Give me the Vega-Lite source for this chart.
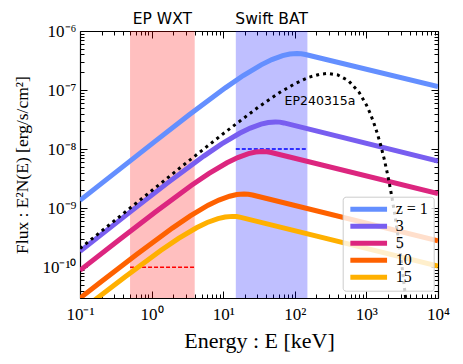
{
  "$schema": "https://vega.github.io/schema/vega-lite/v6.json",
  "width": 358,
  "height": 267,
  "autosize": {"type": "none"},
  "padding": {"left": 80, "top": 31, "right": 25, "bottom": 66},
  "background": "white",
  "config": {
    "view": {"stroke": null},
    "axis": {
      "domainColor": "black", "domainWidth": 1.2, "tickColor": "black", "tickWidth": 1,
      "grid": false, "labelFont": "Liberation Serif", "labelFontSize": 17, "labelColor": "black",
      "titleFont": "Liberation Serif", "titleFontSize": 22, "titleFontWeight": "normal", "titleColor": "black",
      "labelFlush": false, "labelOverlap": false
    }
  },
  "datasets": {
    "bands": [
      {"name": "EP WXT", "lo": 0.5, "hi": 4, "level": 1e-10, "mid": 1.414, "ly": 1.31e-6},
      {"name": "Swift BAT", "lo": 15, "hi": 150, "level": 1e-8, "mid": 47.43, "ly": 1.31e-6}
    ],
    "curves": [
      {"s": "z = 1", "E": 0.1, "F": 1.35e-9}, {"s": "z = 1", "E": 1.0715, "F": 1.30e-8}, {"s": "z = 1", "E": 3.388, "F": 3.85e-8},
      {"s": "z = 1", "E": 10.715, "F": 1.09e-7}, {"s": "z = 1", "E": 19.05, "F": 1.76e-7}, {"s": "z = 1", "E": 33.88, "F": 2.67e-7},
      {"s": "z = 1", "E": 47.86, "F": 3.28e-7}, {"s": "z = 1", "E": 67.61, "F": 3.82e-7}, {"s": "z = 1", "E": 85.11, "F": 4.07e-7},
      {"s": "z = 1", "E": 107.15, "F": 4.17e-7}, {"s": "z = 1", "E": 123.03, "F": 4.13e-7}, {"s": "z = 1", "E": 140.93, "F": 4.00e-7},
      {"s": "z = 1", "E": 10000, "F": 1.14e-7},
      {"s": "3", "E": 0.1, "F": 1.85e-10}, {"s": "3", "E": 0.5358, "F": 9.15e-10}, {"s": "3", "E": 1.694, "F": 2.70e-9},
      {"s": "3", "E": 5.358, "F": 7.61e-9}, {"s": "3", "E": 9.528, "F": 1.22e-8}, {"s": "3", "E": 16.94, "F": 1.85e-8},
      {"s": "3", "E": 23.93, "F": 2.27e-8}, {"s": "3", "E": 33.81, "F": 2.64e-8}, {"s": "3", "E": 42.56, "F": 2.82e-8},
      {"s": "3", "E": 53.58, "F": 2.88e-8}, {"s": "3", "E": 61.52, "F": 2.86e-8}, {"s": "3", "E": 70.47, "F": 2.77e-8},
      {"s": "3", "E": 10000, "F": 6.27e-9},
      {"s": "5", "E": 0.1, "F": 8.83e-11}, {"s": "5", "E": 0.3573, "F": 2.94e-10}, {"s": "5", "E": 1.1298, "F": 8.60e-10},
      {"s": "5", "E": 3.573, "F": 2.41e-9}, {"s": "5", "E": 6.353, "F": 3.86e-9}, {"s": "5", "E": 11.30, "F": 5.85e-9},
      {"s": "5", "E": 15.96, "F": 7.18e-9}, {"s": "5", "E": 22.54, "F": 8.36e-9}, {"s": "5", "E": 28.38, "F": 8.91e-9},
      {"s": "5", "E": 35.73, "F": 9.12e-9}, {"s": "5", "E": 41.02, "F": 9.03e-9}, {"s": "5", "E": 46.99, "F": 8.76e-9},
      {"s": "5", "E": 10000, "F": 1.76e-9},
      {"s": "10", "E": 0.1, "F": 2.99e-11}, {"s": "10", "E": 0.195, "F": 5.61e-11}, {"s": "10", "E": 0.6166, "F": 1.64e-10},
      {"s": "10", "E": 1.950, "F": 4.59e-10}, {"s": "10", "E": 3.467, "F": 7.36e-10}, {"s": "10", "E": 6.166, "F": 1.12e-9},
      {"s": "10", "E": 8.710, "F": 1.37e-9}, {"s": "10", "E": 12.30, "F": 1.59e-9}, {"s": "10", "E": 15.49, "F": 1.70e-9},
      {"s": "10", "E": 19.50, "F": 1.74e-9}, {"s": "10", "E": 22.39, "F": 1.72e-9}, {"s": "10", "E": 25.64, "F": 1.67e-9},
      {"s": "10", "E": 10000, "F": 2.79e-10},
      {"s": "15", "E": 0.1, "F": 1.77e-11}, {"s": "15", "E": 0.1340, "F": 2.34e-11}, {"s": "15", "E": 0.4236, "F": 6.83e-11},
      {"s": "15", "E": 1.340, "F": 1.91e-10}, {"s": "15", "E": 2.382, "F": 3.07e-10}, {"s": "15", "E": 4.236, "F": 4.65e-10},
      {"s": "15", "E": 5.984, "F": 5.70e-10}, {"s": "15", "E": 8.453, "F": 6.64e-10}, {"s": "15", "E": 10.64, "F": 7.08e-10},
      {"s": "15", "E": 13.40, "F": 7.24e-10}, {"s": "15", "E": 15.38, "F": 7.18e-10}, {"s": "15", "E": 17.62, "F": 6.96e-10},
      {"s": "15", "E": 10000, "F": 1.04e-10}
    ],
    "ep": [
      {"E": 0.1, "F": 2.07e-10}, {"E": 1, "F": 1.97e-9}, {"E": 3.162, "F": 6.05e-9}, {"E": 10, "F": 1.82e-8},
      {"E": 31.62, "F": 5.24e-8}, {"E": 63.1, "F": 9.26e-8}, {"E": 100, "F": 1.28e-7}, {"E": 158.5, "F": 1.65e-7},
      {"E": 223.9, "F": 1.85e-7}, {"E": 287.7, "F": 1.91e-7}, {"E": 398.1, "F": 1.80e-7}, {"E": 562.3, "F": 1.44e-7},
      {"E": 794.3, "F": 9.06e-8}, {"E": 1000, "F": 5.58e-8}, {"E": 1122, "F": 4.10e-8}, {"E": 1258.9, "F": 2.86e-8},
      {"E": 1412.5, "F": 1.88e-8}, {"E": 1584.9, "F": 1.16e-8}, {"E": 1778.3, "F": 6.67e-9}, {"E": 1995.3, "F": 3.52e-9},
      {"E": 2238.7, "F": 1.69e-9}, {"E": 2511.9, "F": 7.36e-10}, {"E": 2818.4, "F": 2.85e-10}, {"E": 3162.3, "F": 9.70e-11},
      {"E": 3548.1, "F": 2.85e-11}, {"E": 3981.1, "F": 7.11e-12}
    ],
    "notes": [
      {"t": "EP240315a", "E": 72, "F": 5.57e-8}
    ]
  },
  "layer": [
    {
      "data": {"name": "bands"},
      "transform": [{"filter": "datum.name == 'EP WXT'"}],
      "mark": {"type": "rect", "color": "red", "opacity": 0.25},
      "encoding": {
        "x": {"field": "lo", "type": "quantitative", "scale": {"type": "log", "domain": [0.1, 10000], "nice": false}, "axis": null},
        "x2": {"field": "hi"}
      }
    },
    {
      "data": {"name": "bands"},
      "transform": [{"filter": "datum.name == 'Swift BAT'"}],
      "mark": {"type": "rect", "color": "blue", "opacity": 0.25},
      "encoding": {
        "x": {"field": "lo", "type": "quantitative", "scale": {"type": "log", "domain": [0.1, 10000], "nice": false}, "axis": null},
        "x2": {"field": "hi"}
      }
    },
    {
      "data": {"name": "bands"},
      "transform": [{"filter": "datum.name == 'EP WXT'"}],
      "mark": {"type": "rule", "color": "red", "strokeDash": [4, 2], "strokeWidth": 1.5},
      "encoding": {
        "x": {"field": "lo", "type": "quantitative", "scale": {"type": "log", "domain": [0.1, 10000], "nice": false}, "axis": null},
        "x2": {"field": "hi"},
        "y": {"field": "level", "type": "quantitative", "scale": {"type": "log", "domain": [3e-11, 1e-6], "nice": false}, "axis": null}
      }
    },
    {
      "data": {"name": "bands"},
      "transform": [{"filter": "datum.name == 'Swift BAT'"}],
      "mark": {"type": "rule", "color": "blue", "strokeDash": [4, 2], "strokeWidth": 1.5},
      "encoding": {
        "x": {"field": "lo", "type": "quantitative", "scale": {"type": "log", "domain": [0.1, 10000], "nice": false}, "axis": null},
        "x2": {"field": "hi"},
        "y": {"field": "level", "type": "quantitative", "scale": {"type": "log", "domain": [3e-11, 1e-6], "nice": false}, "axis": null}
      }
    },
    {
      "data": {"name": "curves"},
      "mark": {"type": "line", "strokeWidth": 5, "clip": true},
      "encoding": {
        "x": {
          "field": "E", "type": "quantitative",
          "scale": {"type": "log", "domain": [0.1, 10000], "nice": false},
          "axis": {
            "orient": "bottom",
            "values": [0.1, 1, 10, 100, 1000, 10000],
            "labelExpr": "datum.value == 0.1 ? '10⁻¹' : datum.value == 1 ? '10⁰' : datum.value == 10 ? '10¹' : datum.value == 100 ? '10²' : datum.value == 1000 ? '10³' : '10⁴'",
            "tickSize": -7,
            "labelPadding": 15,
            "title": "Energy : E [keV]",
            "titleY": 49,
            "titleBaseline": "alphabetic"
          }
        },
        "y": {
          "field": "F", "type": "quantitative",
          "scale": {"type": "log", "domain": [3e-11, 1e-6], "nice": false},
          "axis": {
            "orient": "left",
            "values": [1e-10, 1e-9, 1e-8, 1e-7, 1e-6],
            "labelExpr": "datum.value == 1e-10 ? '10⁻¹⁰' : datum.value == 1e-9 ? '10⁻⁹' : datum.value == 1e-8 ? '10⁻⁸' : datum.value == 1e-7 ? '10⁻⁷' : '10⁻⁶'",
            "tickSize": -7,
            "labelPadding": 11,
            "title": "Flux : E²N(E) [erg/s/cm²]",
            "titleFontSize": 17.5,
            "titleX": -58,
            "titleY": 133.5,
            "titleAngle": -90,
            "titleAlign": "center",
            "titleBaseline": "middle"
          }
        },
        "color": {
          "field": "s", "type": "nominal",
          "scale": {"domain": ["z = 1", "3", "5", "10", "15"], "range": ["#648FFF", "#785EF0", "#DC267F", "#FE6100", "#FFB000"]},
          "legend": {
            "orient": "none", "legendX": 262.7, "legendY": 165.7, "title": null,
            "symbolType": "stroke", "symbolSize": 1347, "symbolStrokeWidth": 5,
            "labelFont": "Liberation Serif", "labelFontSize": 16, "labelColor": "black", "labelOffset": 6,
            "padding": 5, "strokeColor": "#cccccc", "fillColor": "rgba(255,255,255,0.8)", "cornerRadius": 3,
            "clipHeight": 15.2, "rowPadding": 0
          }
        }
      }
    },
    {
      "data": {"name": "ep"},
      "mark": {"type": "line", "color": "black", "strokeWidth": 3, "strokeDash": [3, 4], "clip": true},
      "encoding": {
        "x": {
          "field": "E", "type": "quantitative", "scale": {"type": "log", "domain": [0.1, 10000], "nice": false},
          "axis": {
            "orient": "bottom", "labels": false, "title": null, "domain": false, "tickSize": -4,
            "values": [0.2,0.3,0.4,0.5,0.6,0.7,0.8,0.9,2,3,4,5,6,7,8,9,20,30,40,50,60,70,80,90,200,300,400,500,600,700,800,900,2000,3000,4000,5000,6000,7000,8000,9000]
          }
        },
        "y": {
          "field": "F", "type": "quantitative", "scale": {"type": "log", "domain": [3e-11, 1e-6], "nice": false},
          "axis": {
            "orient": "left", "labels": false, "title": null, "domain": false, "tickSize": -4,
            "values": [3e-11,4e-11,5e-11,6e-11,7e-11,8e-11,9e-11,2e-10,3e-10,4e-10,5e-10,6e-10,7e-10,8e-10,9e-10,2e-9,3e-9,4e-9,5e-9,6e-9,7e-9,8e-9,9e-9,2e-8,3e-8,4e-8,5e-8,6e-8,7e-8,8e-8,9e-8,2e-7,3e-7,4e-7,5e-7,6e-7,7e-7,8e-7,9e-7]
          }
        }
      }
    },
    {
      "data": {"name": "bands"},
      "mark": {"type": "text", "font": "DejaVu Sans", "fontSize": 15.5, "baseline": "alphabetic", "align": "center", "color": "black"},
      "encoding": {
        "x": {
          "field": "mid", "type": "quantitative", "scale": {"type": "log", "domain": [0.1, 10000], "nice": false},
          "axis": {"orient": "top", "labels": false, "title": null, "tickSize": -7, "values": [0.1, 1, 10, 100, 1000, 10000]}
        },
        "y": {
          "field": "ly", "type": "quantitative", "scale": {"type": "log", "domain": [3e-11, 1e-6], "nice": false},
          "axis": {"orient": "right", "labels": false, "title": null, "tickSize": -7, "values": [1e-10, 1e-9, 1e-8, 1e-7, 1e-6]}
        },
        "text": {"field": "name"}
      }
    },
    {
      "data": {"name": "notes"},
      "mark": {"type": "text", "font": "DejaVu Sans", "fontSize": 12.5, "baseline": "alphabetic", "align": "left", "color": "black"},
      "encoding": {
        "x": {
          "field": "E", "type": "quantitative", "scale": {"type": "log", "domain": [0.1, 10000], "nice": false},
          "axis": {
            "orient": "top", "labels": false, "title": null, "domain": false, "tickSize": -4,
            "values": [0.2,0.3,0.4,0.5,0.6,0.7,0.8,0.9,2,3,4,5,6,7,8,9,20,30,40,50,60,70,80,90,200,300,400,500,600,700,800,900,2000,3000,4000,5000,6000,7000,8000,9000]
          }
        },
        "y": {
          "field": "F", "type": "quantitative", "scale": {"type": "log", "domain": [3e-11, 1e-6], "nice": false},
          "axis": {
            "orient": "right", "labels": false, "title": null, "domain": false, "tickSize": -4,
            "values": [3e-11,4e-11,5e-11,6e-11,7e-11,8e-11,9e-11,2e-10,3e-10,4e-10,5e-10,6e-10,7e-10,8e-10,9e-10,2e-9,3e-9,4e-9,5e-9,6e-9,7e-9,8e-9,9e-9,2e-8,3e-8,4e-8,5e-8,6e-8,7e-8,8e-8,9e-8,2e-7,3e-7,4e-7,5e-7,6e-7,7e-7,8e-7,9e-7]
          }
        },
        "text": {"field": "t"}
      }
    }
  ],
  "resolve": {"axis": {"x": "independent", "y": "independent"}}
}
